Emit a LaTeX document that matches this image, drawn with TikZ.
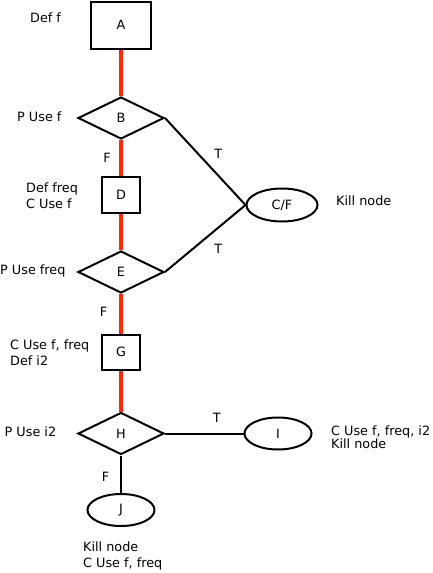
\documentclass[tikz,border=0pt]{standalone}
\usepackage{fontspec}
\setmainfont{DejaVu Sans}
\usetikzlibrary{positioning}
\usetikzlibrary{shapes.geometric}
\definecolor{pathred}{RGB}{255,40,0}
\tikzstyle{box}=[rectangle,draw,line width=2pt,inner sep=0pt,font=\fontsize{12.8}{15}\selectfont]
\tikzstyle{test}=[diamond,draw,line width=2pt,inner sep=0pt,minimum width=86pt,minimum height=42pt,font=\fontsize{12.8}{15}\selectfont]
\tikzstyle{exitnode}=[ellipse,draw,line width=2pt,inner sep=0pt,minimum width=67pt,minimum height=32pt,font=\fontsize{12.8}{15}\selectfont]
\tikzstyle{pathedge} = [draw=pathred,line width=4.5pt]
\tikzstyle{cfgedge} = [draw,line width=2pt]
\tikzstyle{weight} = [text=black,font=\fontsize{12.8}{15}\selectfont]
\tikzstyle{note} = [anchor=base west,inner sep=0pt,align=left,font=\fontsize{12.8}{15.5}\selectfont]

\begin{document}
\begin{tikzpicture}[x=1pt,y=-1pt]

    \useasboundingbox (0,0) rectangle (432,573);

    \foreach \pos/\name/\boxw/\boxh in {{(121,25)/A/60/47}, {(121,195)/D/38/36}, {(121,352)/G/38/35}}
        \node[box,minimum width=\boxw pt,minimum height=\boxh pt] (\name) at \pos {\name};

    \foreach \pos/\name in {{(121,118)/B}, {(121,272)/E}, {(121,433.5)/H}}
        \node[test] (\name) at \pos {\name};

    \foreach \pos/\name/\label in {{(121,510)/J/J}, {(278,433.5)/I/I}}
        \node[exitnode] (\name) at \pos {\label};
    \node[exitnode,minimum width=71pt,minimum height=33pt] (CF) at (282,205) {C/F};

    % notes beside the nodes (base = last line)
    \foreach \pos/\name/\label in {{(30,22)/defA/{Def f}}, {(17,121)/useB/{P Use f}}, {(26,208)/defD/{Def freq\\C Use f}}, {(0,274)/useE/{P Use freq}}, {(10,365)/defG/{C Use f, freq\\Def i2}}, {(4.5,436)/useH/{P Use i2}}, {(83,567)/killJ/{Kill node\\C Use f, freq}}, {(336,205)/killCF/{Kill node}}}
        \node[note] (\name) at \pos {\label};
    \node[note,font=\fontsize{12.8}{12.5}\selectfont] (useI) at (331,448) {C Use f, freq, i2\\Kill node};

    \foreach \source/\dest/\weight/\dx/\dy in {A/B/{}/0/0, B/D/F/-14/0, D/E/{}/0/0, E/G/F/-17.5/1.5, G/H/{}/0/0}
        \path[pathedge] (\source) -- node[weight,xshift=\dx pt,yshift=\dy pt] {\weight} (\dest);

    \foreach \source/\dest/\weight/\dx/\dy in {B.east/CF.west/T/13/8, E.east/CF.west/T/13/-10, H.east/I.west/T/12.5/16, H.south/J.north/F/-15.5/-2.5}
        \path[cfgedge] (\source) -- node[weight,xshift=\dx pt,yshift=\dy pt] {\weight} (\dest);

\end{tikzpicture}
\end{document}
